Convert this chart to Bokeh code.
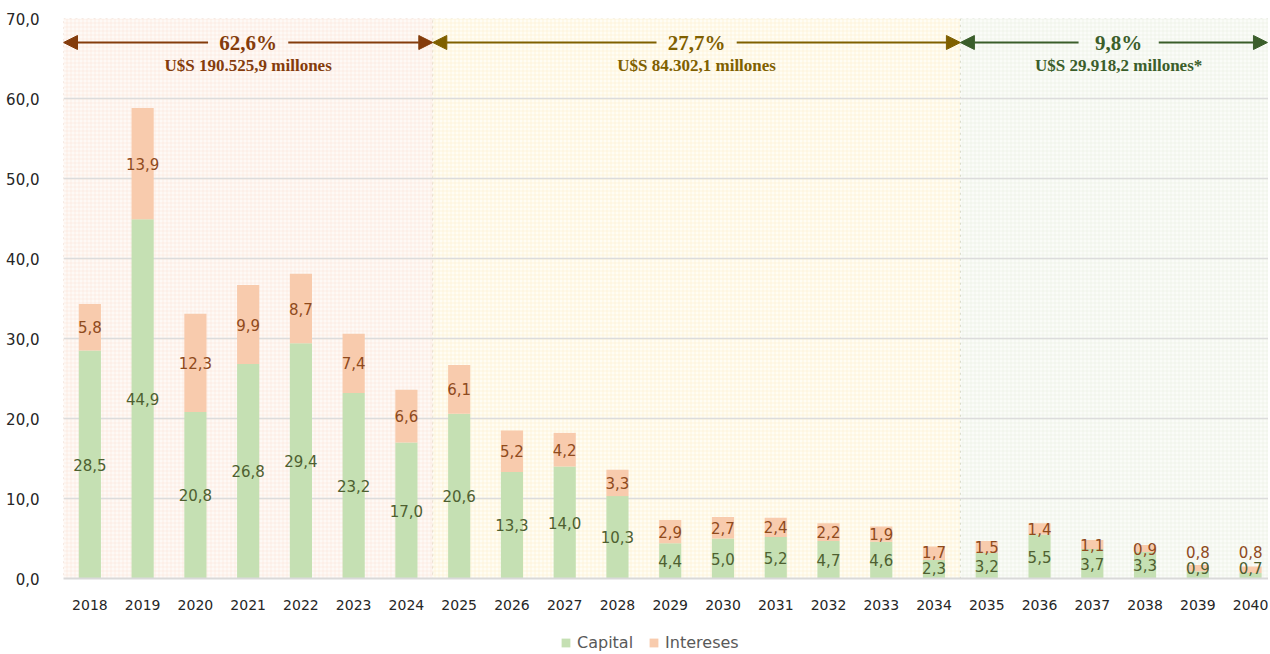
from bokeh.plotting import figure
from bokeh.layouts import column
from bokeh.models import (ColumnDataSource, BoxAnnotation, Arrow, NormalHead, Label,
                          Legend, LegendItem, FixedTicker)
from bokeh.core.properties import value
from bokeh.embed import file_html
from bokeh.resources import INLINE

# ---------------- data ----------------
years = ["2018", "2019", "2020", "2021", "2022", "2023", "2024", "2025", "2026", "2027",
         "2028", "2029", "2030", "2031", "2032", "2033", "2034", "2035", "2036", "2037",
         "2038", "2039", "2040"]
capital = [28.5, 44.9, 20.8, 26.8, 29.4, 23.2, 17.0, 20.6, 13.3, 14.0, 10.3, 4.4,
           5.0, 5.2, 4.7, 4.6, 2.3, 3.2, 5.5, 3.7, 3.3, 0.9, 0.7]
intereses = [5.8, 13.9, 12.3, 9.9, 8.7, 7.4, 6.6, 6.1, 5.2, 4.2, 3.3, 2.9,
             2.7, 2.4, 2.2, 1.9, 1.7, 1.5, 1.4, 1.1, 0.9, 0.8, 0.8]
y_ticks = [0, 10, 20, 30, 40, 50, 60, 70]
series_names = ["Capital", "Intereses"]

period_first = ["2018", "2025", "2035"]
period_last = ["2024", "2034", "2040"]
period_pct = ["62,6%", "27,7%", "9,8%"]
period_amount = ["U$S 190.525,9 millones", "U$S 84.302,1 millones", "U$S 29.918,2 millones*"]

# ---------------- styles ----------------
CAP_COLOR = "#c5e0b3"
INT_COLOR = "#f8cbad"
CAP_TXT = "#4e5f30"
INT_TXT = "#8f4a1c"
region_fill = ["#fef9f6", "#fffdf4", "#fafcf8"]
region_hatch = ["#f4cdb6", "#f8e2a6", "#d6e2ca"]
region_line = ["#b88a6a", "#c2b07a", "#8fa07e"]
region_txt = ["#843c0c", "#7f6000", "#3b5e2b"]

W = 1268
X_END = 22.34

def fmt(v):
    return f"{v:.1f}".replace(".", ",")

x = list(range(len(years)))
cap_y = [max(c / 2, 1.3) for c in capital]
int_y = [max(c + i / 2, cy + 2.0) for c, i, cy in zip(capital, intereses, cap_y)]

src = ColumnDataSource(dict(
    x=x, Capital=capital, Intereses=intereses,
    cap_y=cap_y, int_y=int_y,
    cap_lbl=[fmt(v) for v in capital], int_lbl=[fmt(v) for v in intereses],
))

p = figure(width=W, height=622, x_range=(-0.5, X_END), y_range=(0, 70),
           output_backend="svg", toolbar_location=None,
           min_border_left=63, min_border_right=0, min_border_top=18, min_border_bottom=44)
p.outline_line_color = None
p.background_fill_color = "white"
p.border_fill_color = "white"

# regions
for k in range(3):
    a = years.index(period_first[k]) - 0.5
    b = min(years.index(period_last[k]) + 0.5, X_END)
    box = BoxAnnotation(left=a, right=b, bottom=0, top=70, level="image",
                        fill_color=region_fill[k], fill_alpha=1.0,
                        line_color=region_line[k], line_dash="dotted", line_width=1,
                        hatch_pattern="+", hatch_color=region_hatch[k], hatch_alpha=0.45,
                        hatch_scale=4, hatch_weight=0.6)
    p.add_layout(box)

# grid
p.xgrid.grid_line_color = None
p.ygrid.ticker = FixedTicker(ticks=y_ticks)
p.ygrid.grid_line_color = "#dcdcdc"
p.ygrid.grid_line_width = 1.5

# bars
rs = p.vbar_stack(series_names, x="x", width=0.42, source=src,
                  color=[CAP_COLOR, INT_COLOR], line_color=None)

# bar labels
p.text(x="x", y="cap_y", text="cap_lbl", source=src, text_align="center",
       text_baseline="middle", text_font=value("DejaVu Sans"), text_font_size="15px",
       text_color=CAP_TXT)
p.text(x="x", y="int_y", text="int_lbl", source=src, text_align="center",
       text_baseline="middle", text_font=value("DejaVu Sans"), text_font_size="15px",
       text_color=INT_TXT)

# period annotations
for k in range(3):
    a = years.index(period_first[k]) - 0.5
    b = min(years.index(period_last[k]) + 0.5, X_END - 0.02)
    c = (years.index(period_first[k]) - 0.5 + years.index(period_last[k]) + 0.5) / 2
    gap = 0.76
    col = region_txt[k]
    p.add_layout(Arrow(x_start=c - gap, y_start=67.0, x_end=a, y_end=67.0,
                       line_color=col, line_width=2,
                       end=NormalHead(size=14, fill_color=col, line_color=col)))
    p.add_layout(Arrow(x_start=c + gap, y_start=67.0, x_end=b, y_end=67.0,
                       line_color=col, line_width=2,
                       end=NormalHead(size=14, fill_color=col, line_color=col)))
    p.add_layout(Label(x=c, y=67.0, text=period_pct[k], text_align="center",
                       text_baseline="middle", text_font="Liberation Serif",
                       text_font_style="bold", text_font_size="21px", text_color=col))
    p.add_layout(Label(x=c, y=64.1, text=period_amount[k], text_align="center",
                       text_baseline="middle", text_font="Liberation Serif",
                       text_font_style="bold", text_font_size="17px", text_color=col))

# axes
p.xaxis.ticker = FixedTicker(ticks=x)
p.xaxis.major_label_overrides = {i: y for i, y in enumerate(years)}
p.xaxis.axis_line_color = "#d9d9d9"
p.xaxis.axis_line_width = 2
p.xaxis.major_tick_line_color = None
p.xaxis.minor_tick_line_color = None
p.xaxis.major_label_standoff = 15
p.xaxis.major_label_text_font = "DejaVu Sans"
p.xaxis.major_label_text_font_size = "14px"
p.xaxis.major_label_text_color = "#262626"

p.yaxis.ticker = FixedTicker(ticks=y_ticks)
p.yaxis.major_label_overrides = {t: fmt(t) for t in y_ticks}
p.yaxis.axis_line_color = None
p.yaxis.major_tick_line_color = None
p.yaxis.minor_tick_line_color = None
p.yaxis.major_label_standoff = 18
p.yaxis.major_label_text_font = "DejaVu Sans"
p.yaxis.major_label_text_font_size = "15px"
p.yaxis.major_label_text_color = "#262626"

# legend in a thin strip below (swatch renderers sit outside the strip's visible range)
lg = figure(width=W, height=30, x_range=(0, 1), y_range=(0, 1),
            output_backend="svg", toolbar_location=None, min_border=0,
            x_axis_location=None, y_axis_location=None)
lg.grid.grid_line_color = None
lg.outline_line_color = None
lg.border_fill_color = "white"
lg.background_fill_color = "white"
lg_src = ColumnDataSource(dict(x=[5.0], top=[5.0]))
r_cap = lg.vbar(x="x", top="top", bottom=4.0, width=0.1, source=lg_src,
                fill_color=CAP_COLOR, line_color=None)
r_int = lg.vbar(x="x", top="top", bottom=4.0, width=0.1, source=lg_src,
                fill_color=INT_COLOR, line_color=None)
legend = Legend(items=[LegendItem(label=series_names[0], renderers=[r_cap]),
                       LegendItem(label=series_names[1], renderers=[r_int])],
                orientation="horizontal", location=(497, 0),
                border_line_color=None, background_fill_alpha=0,
                label_text_font="DejaVu Sans", label_text_font_size="16px",
                label_text_color="#595959", glyph_width=11, glyph_height=11,
                spacing=15, padding=4, margin=0, label_standoff=6)
lg.add_layout(legend)

layout = column(p, lg, spacing=0)
open("out.html", "w").write(file_html(layout, INLINE))
